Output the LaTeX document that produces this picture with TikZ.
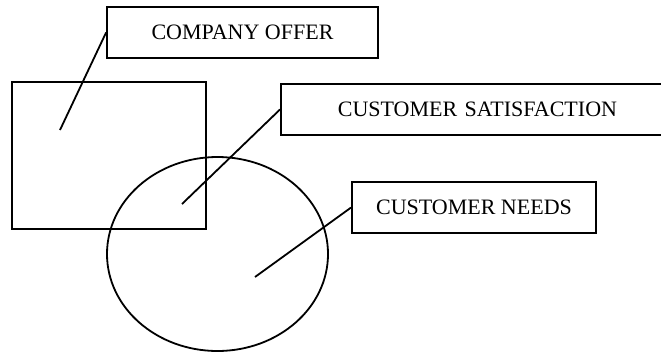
\documentclass[tikz,border=0pt]{standalone}
\usepackage{fontspec}
\setmainfont{Liberation Serif}

\tikzset{
  labelbox/.style={draw, line width=1.8pt, inner sep=0pt, minimum height=51pt,
    font=\fontsize{22}{26}\selectfont},
  leader/.style={line width=1.8pt},
}

\begin{document}
\begin{tikzpicture}[x=1pt,y=-1pt]
\useasboundingbox (0,0) rectangle (661,354);
\clip (0,0) rectangle (661,354);
\draw[leader] (12,82) rectangle (206,229);
\draw[leader] (217.5,254) ellipse [x radius=110.5, y radius=97];
\node[labelbox, minimum width=271pt] (offer) at (242.5,32.5) {COMPANY OFFER};
\node[labelbox, anchor=west, inner xsep=57pt, text width=286pt, align=left] (satisfaction) at (280,109.5) {CUSTOMER SATISFACTION};
\node[labelbox, minimum width=244pt] (needs) at (474,207.5) {CUSTOMER NEEDS};
\coordinate (offerpt) at (60,130);
\coordinate (satisfactionpt) at (182,204);
\coordinate (needspt) at (255,277);
\draw[leader] (offer.west) -- (offerpt);
\draw[leader] (satisfaction.west) -- (satisfactionpt);
\draw[leader] (needs.west) -- (needspt);
\end{tikzpicture}
\end{document}
